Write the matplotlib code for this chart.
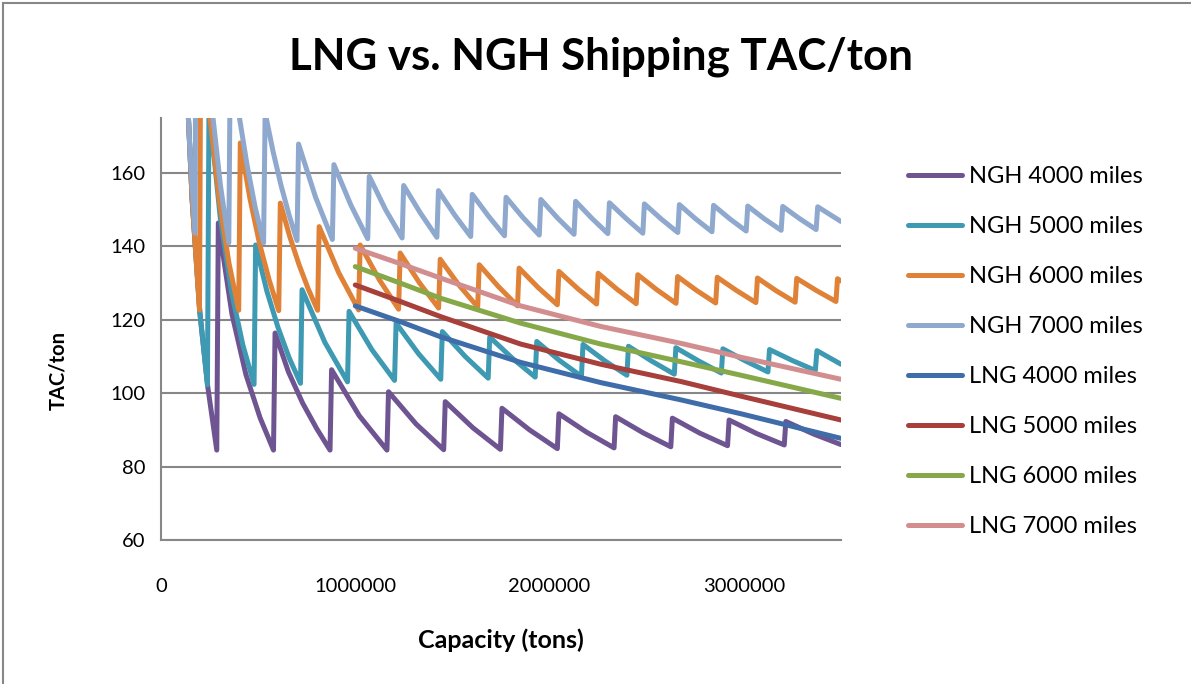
import matplotlib.pyplot as plt
from matplotlib.lines import Line2D

# capacity in thousand tons, TAC in $/ton
ngh4000_cap = [100, 130, 160, 200, 240, 287,
               295, 365, 437, 510, 579,
               587, 656, 729, 802, 870,
               878, 1020, 1163, 1171, 1313, 1455, 1463, 1605, 1747,
               1755, 1897, 2040, 2048, 2190, 2332, 2340, 2482, 2624,
               2632, 2774, 2916, 2924, 3066, 3208, 3216, 3358, 3500]
ngh4000_tac = [245, 188, 153, 122, 102, 84.5,
               146.4, 121.6, 105.1, 93.3, 84.5,
               116.4, 105.8, 97.3, 90.3, 84.5,
               106.4, 93.9, 84.5, 100.4, 91.6, 84.6, 97.7, 90.6, 84.7,
               95.9, 90.0, 84.9, 94.4, 89.4, 85.1, 93.6, 89.2, 85.4,
               93.2, 89.1, 85.7, 92.7, 89.0, 85.9, 92.3, 88.9, 86.0]

ngh5000_cap = [100, 130, 160, 200, 239,
               247, 305, 363, 421, 479,
               487, 545, 603, 660, 718,
               726, 843, 960, 968, 1085, 1202, 1210, 1325, 1440,
               1448, 1566, 1684, 1692, 1809, 1926, 1934, 2049, 2164,
               2172, 2285, 2398, 2406, 2524, 2642, 2650, 2767, 2884,
               2892, 3008, 3124, 3132, 3250, 3368, 3376, 3500]
ngh5000_tac = [245, 188, 153, 122, 102.3,
               178, 147.8, 127.6, 113.2, 102.4,
               140.4, 127.8, 117.8, 109.6, 102.7,
               128.2, 113.9, 103.1, 122.3, 111.9, 103.5, 119.1, 110.8, 103.8,
               116.8, 110.0, 104.1, 115.3, 109.5, 104.4, 114.1, 109.0, 104.6,
               113.3, 108.8, 104.9, 112.8, 108.8, 105.2, 112.4, 108.8, 105.5,
               112.1, 108.8, 105.8, 111.9, 108.9, 106.2, 111.6, 107.9]

ngh6000_cap = [100, 130, 160, 198,
               206, 250, 300, 350, 400,
               408, 458, 507, 557, 606,
               614, 662, 710, 758, 806,
               814, 915, 1017, 1025, 1124, 1223, 1231, 1330, 1429,
               1437, 1533, 1630, 1638, 1736, 1835, 1843, 1941, 2040,
               2048, 2145, 2242, 2250, 2348, 2446, 2454, 2552, 2651,
               2659, 2757, 2855, 2863, 2962, 3062, 3070, 3167, 3264,
               3272, 3373, 3474, 3482, 3500]
ngh6000_tac = [245, 188, 153, 122.7,
               212, 176.2, 152.4, 135.4, 122.6,
               168.2, 153.0, 140.8, 130.8, 122.5,
               151.8, 142.8, 135.1, 128.4, 122.6,
               145.4, 132.8, 122.7, 140.4, 130.9, 122.9, 138.2, 130.1, 123.2,
               136.5, 129.5, 123.5, 135.0, 129.1, 123.8, 134.1, 128.8, 124.1,
               133.2, 128.5, 124.3, 132.7, 128.3, 124.4, 132.3, 128.2, 124.5,
               131.8, 128.0, 124.6, 131.6, 128.0, 124.7, 131.4, 127.9, 124.8,
               131.3, 128.0, 125.0, 131.2, 130.6]

ngh7000_cap = [100, 130, 150, 175,
               183, 220, 263, 306, 349,
               357, 400, 443, 485, 528,
               536, 577, 618, 659, 700,
               708, 795, 882, 890, 977, 1064, 1072, 1156, 1241,
               1249, 1334, 1420, 1428, 1511, 1594, 1602, 1685, 1768,
               1776, 1861, 1947, 1955, 2040, 2126, 2134, 2217, 2300,
               2308, 2394, 2480, 2488, 2574, 2660, 2668, 2752, 2836,
               2844, 2928, 3012, 3020, 3106, 3192, 3200, 3286, 3372,
               3380, 3500]
ngh7000_tac = [245, 188, 165, 143.6,
               250, 206.4, 177.3, 156.6, 141.0,
               194, 176.3, 162.2, 150.6, 141.0,
               176.5, 165.8, 156.6, 148.6, 141.6,
               167.9, 153.5, 141.9, 162.3, 151.3, 142.1, 159.1, 150.0, 142.3,
               156.6, 149.2, 142.5, 155.2, 148.6, 142.7, 154.2, 148.3, 142.9,
               153.4, 148.0, 143.1, 152.8, 147.8, 143.3, 152.3, 147.7, 143.5,
               151.9, 147.6, 143.6, 151.6, 147.5, 143.8, 151.4, 147.5, 144.0,
               151.2, 147.5, 144.2, 151.0, 147.5, 144.4, 150.9, 147.6, 144.6,
               150.8, 146.8]

lng_cap = [1000, 1232, 1438, 1851, 2263, 2675, 2985, 3500]
lng4000_tac = [123.8, 119.5, 115.4, 108.4, 102.9, 98.2, 94.4, 87.7]
lng5000_tac = [129.5, 125.0, 120.9, 113.4, 107.9, 103.2, 99.2, 92.7]
lng6000_tac = [134.5, 130.0, 125.9, 119.1, 113.4, 108.6, 104.9, 98.6]
lng7000_tac = [139.5, 135.3, 131.4, 123.8, 118.2, 113.6, 109.8, 103.8]

y_ticks = [60, 80, 100, 120, 140, 160]
x_ticks = [0, 1000000, 2000000, 3000000]
x_tick_labels = ['0', '1000000', '2000000', '3000000']

series = [
    ('NGH 4000 miles', ngh4000_cap, ngh4000_tac, '#6E5591'),
    ('NGH 5000 miles', ngh5000_cap, ngh5000_tac, '#3E99B2'),
    ('NGH 6000 miles', ngh6000_cap, ngh6000_tac, '#DF8237'),
    ('NGH 7000 miles', ngh7000_cap, ngh7000_tac, '#8FA8CE'),
    ('LNG 4000 miles', lng_cap, lng4000_tac, '#3F6DA9'),
    ('LNG 5000 miles', lng_cap, lng5000_tac, '#A73F3B'),
    ('LNG 6000 miles', lng_cap, lng6000_tac, '#86A848'),
    ('LNG 7000 miles', lng_cap, lng7000_tac, '#D28E8E'),
]

plt.rcParams['font.family'] = 'Lato'
grey = '#878787'

fig = plt.figure(figsize=(11.91, 6.84), dpi=100)
ax = fig.add_axes([161 / 1191, 1 - 540 / 684, 680 / 1191, 422 / 684])

for label, cap, tac, color in series:
    ax.plot([c * 1000 for c in cap], tac, color=color, lw=3.6, label=label,
            solid_joinstyle='round', solid_capstyle='round')

ax.set_xlim(0, 3500000)
ax.set_ylim(60, 175)
ax.set_yticks(y_ticks)
ax.set_xticks(x_ticks)
ax.set_xticklabels(x_tick_labels)
ax.grid(axis='y', color=grey, lw=1.5)
ax.set_axisbelow(True)
for side in ('top', 'right'):
    ax.spines[side].set_visible(False)
for side in ('left', 'bottom'):
    ax.spines[side].set_color(grey)
    ax.spines[side].set_linewidth(1.5)
ax.tick_params(axis='both', length=0, labelsize=14.5, colors='black')
ax.tick_params(axis='x', pad=27)
ax.tick_params(axis='y', pad=11)

fig.text(601 / 1191, 1 - 57 / 684, 'LNG vs. NGH Shipping TAC/ton',
         ha='center', va='center', fontsize=31.6, fontweight='bold')
fig.text(501 / 1191, 1 - 640 / 684, 'Capacity (tons)',
         ha='center', va='center', fontsize=18, fontweight='bold')
fig.text(58 / 1191, 1 - 371 / 684, 'TAC/ton', rotation=90,
         ha='center', va='center', fontsize=14.5, fontweight='bold')

ax.legend(loc='upper left', bbox_to_anchor=(908 / 1191, 1 - 166 / 684),
          bbox_transform=fig.transFigure, frameon=False, fontsize=17,
          handlelength=2.3, handletextpad=0.3, labelspacing=1.23,
          borderpad=0, borderaxespad=0)

# chart area border along the top and left edges
fig.add_artist(Line2D([3 / 1191, 1], [1 - 3 / 684, 1 - 3 / 684],
                      transform=fig.transFigure, color=grey, lw=1.5))
fig.add_artist(Line2D([3 / 1191, 3 / 1191], [0, 1 - 3 / 684],
                      transform=fig.transFigure, color=grey, lw=1.5))

fig.savefig('out.png', dpi=100)
